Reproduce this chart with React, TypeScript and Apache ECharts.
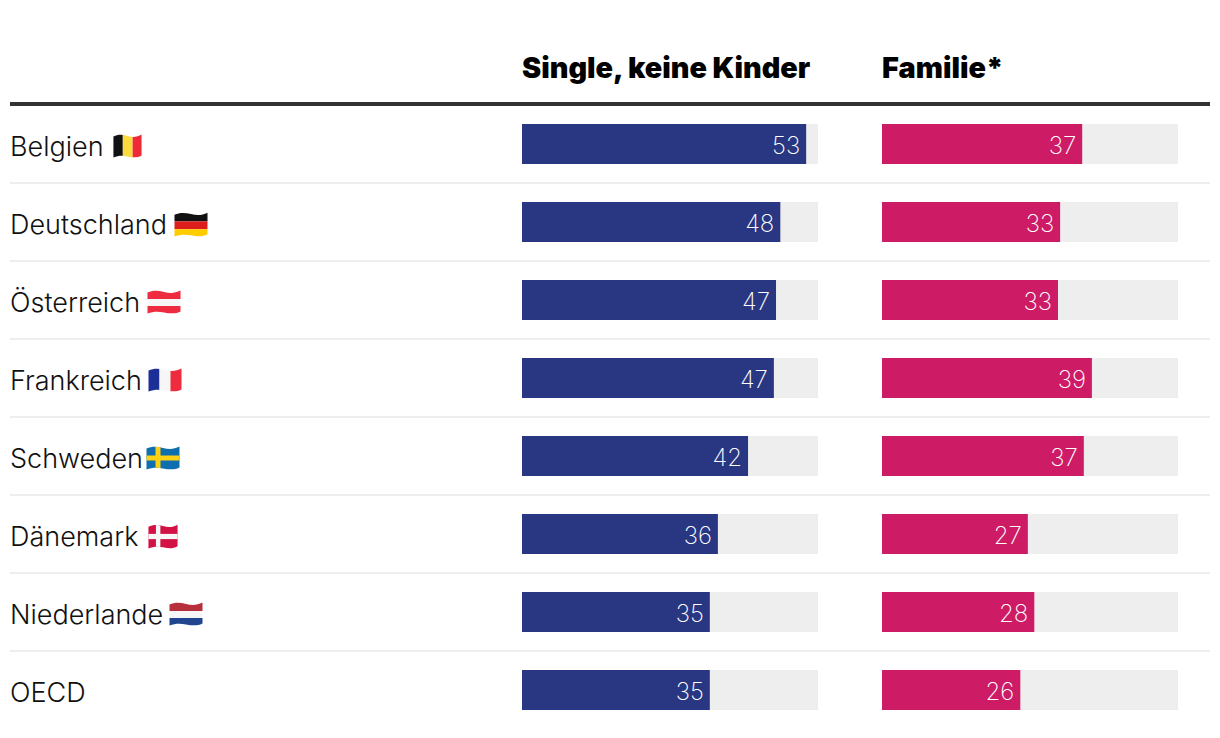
import React, { useEffect, useRef } from "react";
import * as echarts from "echarts";

const categories = ["Belgien", "Deutschland", "Österreich", "Frankreich", "Schweden", "Dänemark", "Niederlande", "OECD"];
const singleValues = [52.8, 48.0, 47.2, 46.8, 42.0, 36.4, 34.9, 34.9];
const familyValues = [37.2, 33.1, 32.7, 39.0, 37.5, 27.1, 28.3, 25.7];
const singleLabels = ["53", "48", "47", "47", "42", "36", "35", "35"];
const familyLabels = ["37", "33", "33", "39", "37", "27", "28", "26"];
const headers = ["Single, keine Kinder", "Familie*"];

const FONT = "Inter";

const WAVE = "M0.5 2.6C6 0.2 11 0.6 17 2S28 3.4 33.5 0.6V21.4C28 24.2 23 23.4 17 22.4S6 21.4 0.5 23.6Z";

function flagSvg(body: string) {
  const svg = `<svg xmlns="http://www.w3.org/2000/svg" width="34" height="24" viewBox="0 0 34 24" preserveAspectRatio="none"><defs><clipPath id="w"><path d="${WAVE}"/></clipPath></defs><g clip-path="url(#w)">${body}</g></svg>`;
  return "data:image/svg+xml;charset=utf-8," + encodeURIComponent(svg);
}
const r = (x: number, y: number, w: number, h: number, c: string) =>
  `<rect x="${x}" y="${y}" width="${w}" height="${h}" fill="${c}"/>`;

const flagBodies: Record<string, string> = {
  Belgien: r(0, 0, 11.5, 24, "#111") + r(11.5, 0, 11.5, 24, "#fbdc3c") + r(23, 0, 11, 24, "#ee2a39"),
  Deutschland: r(0, 0, 34, 9, "#111") + r(0, 9, 34, 7.5, "#dd1c1c") + r(0, 16.5, 34, 8, "#ffcc00"),
  "Österreich": r(0, 0, 34, 9, "#ee2b3f") + r(0, 9, 34, 7, "#f6f6f6") + r(0, 16, 34, 8, "#ee2b3f"),
  Frankreich: r(0, 0, 11.5, 24, "#1c2f96") + r(11.5, 0, 11, 24, "#f6f6f6") + r(22.5, 0, 11.5, 24, "#ee2b3f"),
  Schweden: r(0, 0, 34, 24, "#0f6fae") + r(9.5, 0, 5, 24, "#fcd116") + r(0, 9.5, 34, 5, "#fcd116"),
  "Dänemark": r(0, 0, 34, 24, "#d31145") + r(9, 0, 5, 24, "#f6f6f6") + r(0, 9.5, 34, 5, "#f6f6f6"),
  Niederlande: r(0, 0, 34, 9, "#b72f3c") + r(0, 9, 34, 7, "#f6f6f6") + r(0, 16, 34, 8, "#21468f"),
};

// Layout of the flag pictures, beside the country names
const flagBoxes: [string, number, number, number, number][] = [
  ["Belgien", 113, 134, 29, 24],
  ["Deutschland", 174, 212, 34, 25],
  ["Österreich", 147, 290, 34, 24],
  ["Frankreich", 148, 368, 34, 24],
  ["Schweden", 146, 446, 34, 24],
  ["Dänemark", 148, 524, 30, 25],
  ["Niederlande", 169, 602, 34, 24],
];

function barSeries(idx: number, values: number[], labels: string[], color: string) {
  return {
    type: "bar",
    xAxisIndex: idx,
    yAxisIndex: idx,
    data: values,
    barWidth: 40,
    itemStyle: { color },
    showBackground: true,
    backgroundStyle: { color: "#eeeeee" },
    silent: true,
    label: {
      show: true,
      position: "insideRight",
      distance: 6,
      offset: [0, 1],
      color: "#ffffff",
      fontFamily: FONT,
      fontWeight: 250,
      fontSize: 24,
      formatter: (p: any) => labels[p.dataIndex],
    },
  };
}

export default function App() {
  const ref = useRef<HTMLDivElement>(null);
  useEffect(() => {
    const chart = echarts.init(ref.current!, undefined, { renderer: "svg" });
    const yBase = { type: "category", inverse: true, data: categories, axisLine: { show: false }, axisTick: { show: false } };
    const hidden = { type: "value", min: 0, max: 55, show: false };
    chart.setOption({
      animation: false,
      backgroundColor: "#ffffff",
      grid: [
        { left: 10, width: 1200, top: 105, height: 624 },
        { left: 522, width: 296, top: 105, height: 624 },
        { left: 882, width: 296, top: 105, height: 624 },
      ],
      xAxis: [
        { ...hidden, gridIndex: 0 },
        { ...hidden, gridIndex: 1 },
        { ...hidden, gridIndex: 2 },
      ],
      yAxis: [
        {
          ...yBase,
          gridIndex: 0,
          axisLabel: {
            inside: true,
            margin: 0,
            align: "left",
            interval: 0,
            formatter: (v: string) => `{c|${v}}`,
            rich: {
              c: {
                color: "#111111",
                fontFamily: FONT,
                fontWeight: 275,
                fontSize: 27,
                padding: [4, 0, 0, 0],
              },
            },
          },
          splitLine: { show: true, interval: 0, showMinLine: false, showMaxLine: false, lineStyle: { color: "#eeeeee", width: 2 } },
        },
        { ...yBase, gridIndex: 1, axisLabel: { show: false } },
        { ...yBase, gridIndex: 2, axisLabel: { show: false } },
      ],
      series: [
        { type: "bar", xAxisIndex: 0, yAxisIndex: 0, data: [], silent: true },
        barSeries(1, singleValues, singleLabels, "#293682"),
        barSeries(2, familyValues, familyLabels, "#cd1b66"),
      ],
      graphic: [
        { type: "rect", silent: true, shape: { x: 10, y: 102, width: 1200, height: 4 }, style: { fill: "#333333" } },
        { type: "text", silent: true, x: 522, y: 67, style: { text: headers[0], fill: "#000000", fontFamily: FONT, fontWeight: 900, fontSize: 28.8, verticalAlign: "middle" } },
        { type: "text", silent: true, x: 882, y: 67, style: { text: headers[1], fill: "#000000", fontFamily: FONT, fontWeight: 900, fontSize: 28.8, verticalAlign: "middle" } },
        ...flagBoxes.map(([name, x, y, width, height]) => ({
          type: "image",
          silent: true,
          x,
          y,
          style: { image: flagSvg(flagBodies[name]), width, height },
        })),
      ],
    });
    return () => chart.dispose();
  }, []);
  return <div ref={ref} style={{ position: "absolute", left: 0, top: 0, width: 1220, height: 738 }} />;
}
